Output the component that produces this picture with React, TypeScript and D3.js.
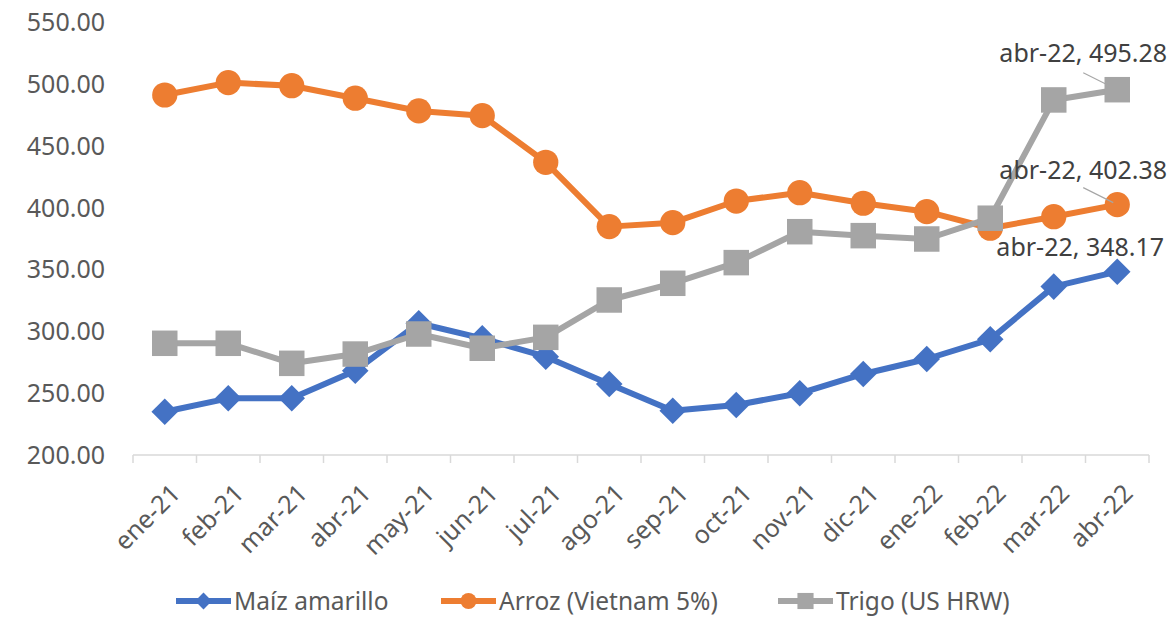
import { useEffect, useRef } from "react";
import * as d3 from "d3";

const months = [
  "ene-21", "feb-21", "mar-21", "abr-21", "may-21", "jun-21", "jul-21", "ago-21",
  "sep-21", "oct-21", "nov-21", "dic-21", "ene-22", "feb-22", "mar-22", "abr-22",
];

const maiz = [
  235.0, 245.8, 245.8, 268.1, 306.5, 294.3, 279.5, 257.4,
  235.8, 240.4, 249.9, 265.5, 277.6, 293.5, 336.1, 348.17,
];

const arroz = [
  491.0, 501.0, 498.5, 488.4, 478.1, 474.3, 436.6, 384.6,
  387.8, 405.3, 412.0, 403.5, 396.7, 383.3, 392.6, 402.38,
];

const trigo = [
  290.3, 290.3, 274.1, 281.6, 297.8, 286.3, 295.1, 325.3,
  338.8, 355.5, 380.5, 377.3, 374.6, 391.4, 487.0, 495.28,
];

const yTicks = [200, 250, 300, 350, 400, 450, 500, 550];

const series = [
  { name: "Maíz amarillo", values: maiz, color: "#4472C4", symbol: "diamond" },
  { name: "Arroz (Vietnam 5%)", values: arroz, color: "#ED7D31", symbol: "circle" },
  { name: "Trigo (US HRW)", values: trigo, color: "#A5A5A5", symbol: "square" },
];

const FONT = "'Noto Sans', sans-serif";

export default function App() {
  const ref = useRef<SVGSVGElement>(null);

  useEffect(() => {
    document.body.style.margin = "0";
    const svg = d3.select(ref.current);
    svg.selectAll("*").remove();

    const left = 133;
    const right = 1149;
    const top = 22;
    const bottom = 455;

    const x = d3.scaleBand().domain(months).range([left, right]);
    const y = d3.scaleLinear().domain([200, 550]).range([bottom, top]);
    const cx = (m: string) => (x(m) as number) + x.bandwidth() / 2;

    // y tick labels
    svg
      .append("g")
      .selectAll("text")
      .data(yTicks)
      .join("text")
      .attr("x", 105)
      .attr("y", (d) => y(d))
      .attr("dy", "0.36em")
      .attr("text-anchor", "end")
      .attr("font-family", FONT)
      .attr("font-size", 25)
      .attr("fill", "#595959")
      .text((d) => d3.format(".2f")(d));

    // x axis line + ticks between categories
    const ax = svg.append("g").attr("stroke", "#D9D9D9").attr("stroke-width", 1.5);
    ax.append("line")
      .attr("x1", left)
      .attr("x2", right)
      .attr("y1", bottom)
      .attr("y2", bottom);
    const edges = months.map((m) => x(m) as number).concat([right]);
    ax.selectAll(".tk")
      .data(edges)
      .join("line")
      .attr("x1", (d) => d)
      .attr("x2", (d) => d)
      .attr("y1", bottom)
      .attr("y2", bottom + 8);

    // x labels
    svg
      .append("g")
      .selectAll("text")
      .data(months)
      .join("text")
      .attr("transform", (d) => `translate(${cx(d) + 17},${bottom + 40}) rotate(-45)`)
      .attr("text-anchor", "end")
      .attr("font-family", FONT)
      .attr("font-size", 25)
      .attr("fill", "#595959")
      .text((d) => d);

    const symbolOf = (s: string, size: number) => {
      const type =
        s === "diamond" ? d3.symbolDiamond2 : s === "circle" ? d3.symbolCircle : d3.symbolSquare;
      return d3.symbol().type(type).size(size)() as string;
    };
    const sizeOf = (s: string) => (s === "diamond" ? 450 : s === "circle" ? 500 : 650);

    const line = d3
      .line<number>()
      .x((_, i) => cx(months[i]))
      .y((d) => y(d));

    series.forEach((s) => {
      const g = svg.append("g");
      g.append("path")
        .attr("d", line(s.values) as string)
        .attr("fill", "none")
        .attr("stroke", s.color)
        .attr("stroke-width", 6)
        .attr("stroke-linejoin", "round");
      g.selectAll(".pt")
        .data(s.values)
        .join("path")
        .attr("transform", (d, i) => `translate(${cx(months[i])},${y(d)})`)
        .attr("d", symbolOf(s.symbol, sizeOf(s.symbol)))
        .attr("fill", s.color);
    });

    // data labels for the last point
    const lastM = months[months.length - 1];
    const labels = [
      { s: trigo, dx: -34, dy: -28, leader: true },
      { s: arroz, dx: -34, dy: -26, leader: true },
      { s: maiz, dx: -37, dy: -16, leader: false },
    ];
    labels.forEach((l) => {
      const v = l.s[l.s.length - 1];
      const px = cx(lastM);
      const py = y(v);
      svg
        .append("text")
        .attr("x", px + l.dx)
        .attr("y", py + l.dy)
        .attr("text-anchor", "middle")
        .attr("font-family", FONT)
        .attr("font-size", 25)
        .attr("fill", "#404040")
        .text(`${lastM}, ${d3.format(".2f")(v)}`);
      if (l.leader) {
        svg
          .append("line")
          .attr("x1", px - 34)
          .attr("y1", py - 17)
          .attr("x2", px - 4)
          .attr("y2", py - 2)
          .attr("stroke", "#A6A6A6")
          .attr("stroke-width", 1.2);
      }
    });

    // legend
    const legendX = [176, 441, 778];
    const ly = 601;
    series.forEach((s, i) => {
      const g = svg.append("g").attr("transform", `translate(${legendX[i]},${ly})`);
      g.append("line")
        .attr("x1", 0)
        .attr("x2", 55)
        .attr("stroke", s.color)
        .attr("stroke-width", 6);
      g.append("path")
        .attr("transform", "translate(27.5,0)")
        .attr("d", symbolOf(s.symbol, sizeOf(s.symbol) * 0.4))
        .attr("fill", s.color);
      g.append("text")
        .attr("x", 58)
        .attr("dy", "0.36em")
        .attr("font-family", FONT)
        .attr("font-size", 24.5)
        .attr("fill", "#595959")
        .text(s.name);
    });
  }, []);

  return <svg ref={ref} width={1173} height={617} style={{ display: "block" }} />;
}
